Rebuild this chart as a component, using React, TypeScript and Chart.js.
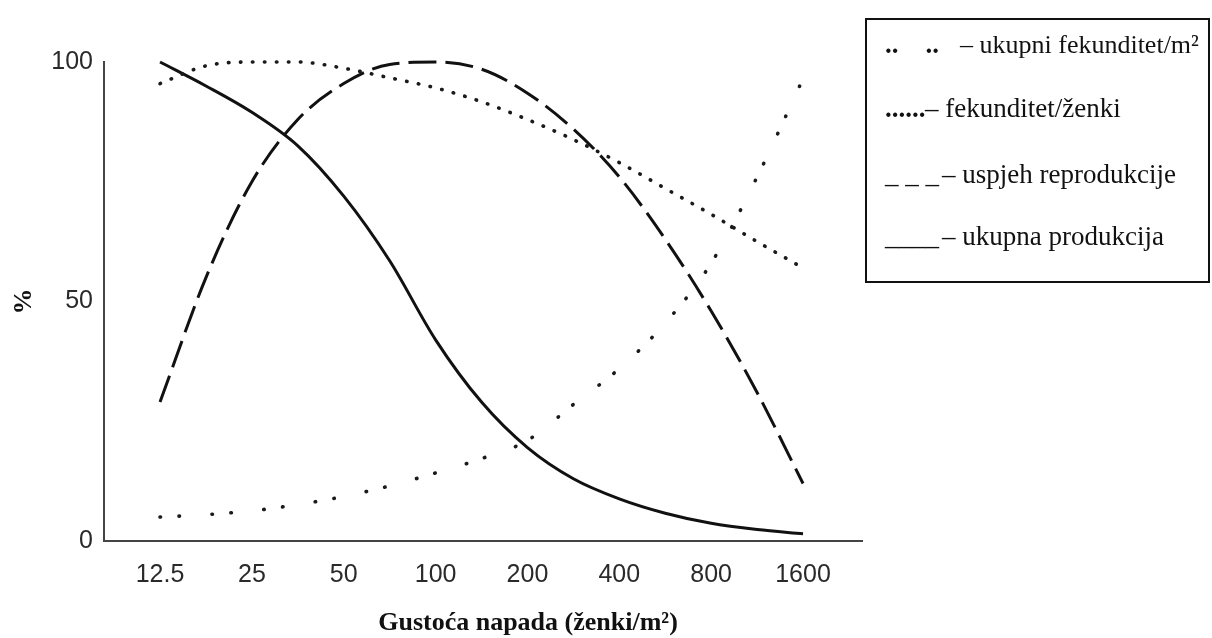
import React, { useEffect, useRef } from 'react';
import { Chart, registerables } from 'chart.js';

Chart.register(...registerables);

// Density categories (ženki/m²), evenly spaced on a log2 axis
const densities = ['12.5', '25', '50', '100', '200', '400', '800', '1600'];
// x position in doubling steps from 12.5 (log2(density / 12.5))
const xSteps = [0, 0.5, 1, 1.5, 2, 2.5, 3, 3.5, 4, 4.5, 5, 5.5, 6, 6.5, 7];

// Series values in %
const ukupniFekunditet = [5, 5.5, 6.3, 7.6, 9.3, 11.5, 14.2, 17.2, 21, 28.5, 36, 45.5, 58, 76, 96.5];
const fekunditetZenki = [95.5, 99.2, 100, 100, 98.7, 96.7, 94.6, 91.7, 88, 83.8, 79, 73.6, 68.2, 62.5, 57];
const uspjehReprodukcije = [29, 55, 75, 88, 95.5, 99.5, 100, 98.5, 93.5, 86, 76, 63, 48, 31, 12];
const ukupnaProdukcija = [100, 95, 89.5, 82.5, 72, 58.5, 42, 29, 19.5, 13, 8.8, 5.8, 3.7, 2.4, 1.5];

const yTicks = [0, 50, 100];
const yTickLabels = ['0', '50', '100'];

const xTitle = 'Gustoća napada (ženki/m²)';
const yTitle = '%';

const legendSymbols = ['..    ..', '......', '_ _ _', '____'];
const legendSymbolBold = [true, true, false, false];
const legendLabels = ['– ukupni fekunditet/m²', '– fekunditet/ženki', '– uspjeh reprodukcije', '– ukupna produkcija'];

const toPoints = (vals: number[]) => vals.map((v, i) => ({ x: xSteps[i], y: v }));

const SERIF = '"Liberation Serif", "Times New Roman", serif';
const SANS = '"Liberation Sans", Arial, sans-serif';

const overlayPlugin = {
  id: 'overlay',
  beforeDraw(chart: any) {
    const { ctx, width, height } = chart;
    ctx.save();
    ctx.fillStyle = '#ffffff';
    ctx.fillRect(0, 0, width, height);
    ctx.restore();
  },
  afterDraw(chart: any) {
    const { ctx } = chart;
    ctx.save();
    // legend box
    ctx.strokeStyle = '#111';
    ctx.lineWidth = 2;
    ctx.strokeRect(866, 19, 343, 263);
    ctx.fillStyle = '#111';
    ctx.textBaseline = 'alphabetic';
    ctx.textAlign = 'left';
    const baselines = [53, 117, 183, 245];
    const labelX = [960, 925, 942, 942];
    legendLabels.forEach((label, i) => {
      ctx.font = `${legendSymbolBold[i] ? 'bold ' : ''}27px ${SERIF}`;
      ctx.fillText(legendSymbols[i], 885, baselines[i]);
      ctx.font = `${i === 0 ? 26 : 27}px ${SERIF}`;
      ctx.fillText(label, labelX[i], baselines[i]);
    });
    // x-axis title
    ctx.font = `bold 26px ${SERIF}`;
    ctx.textAlign = 'center';
    ctx.fillText(xTitle, 528, 630);
    ctx.restore();
  },
};

export default function App() {
  const canvasRef = useRef<HTMLCanvasElement | null>(null);

  useEffect(() => {
    document.body.style.margin = '0';
    const canvas = canvasRef.current;
    if (!canvas) return;
    const lineBase = {
      pointRadius: 0,
      fill: false,
      cubicInterpolationMode: 'monotone' as const,
      clip: 12,
    };
    const chart = new Chart(canvas, {
      type: 'line',
      data: {
        datasets: [
          {
            ...lineBase,
            label: legendLabels[0],
            data: toPoints(ukupniFekunditet),
            borderColor: '#1a1a1a',
            borderWidth: 3.6,
            borderCapStyle: 'round',
            borderDash: [0.5, 18.5, 0.5, 32.5],
          },
          {
            ...lineBase,
            label: legendLabels[1],
            data: toPoints(fekunditetZenki),
            borderColor: '#1a1a1a',
            borderWidth: 3.6,
            borderCapStyle: 'round',
            borderDash: [0.5, 11.5],
          },
          {
            ...lineBase,
            label: legendLabels[2],
            data: toPoints(uspjehReprodukcije),
            borderColor: '#111',
            borderWidth: 3,
            borderCapStyle: 'butt',
            borderDash: [28, 9],
          },
          {
            ...lineBase,
            label: legendLabels[3],
            data: toPoints(ukupnaProdukcija),
            borderColor: '#111',
            borderWidth: 3,
          },
        ],
      },
      options: {
        animation: false,
        responsive: false,
        devicePixelRatio: 1,
        layout: { padding: { top: 62, right: 350, bottom: 0, left: 0 } },
        plugins: {
          legend: { display: false },
          tooltip: { enabled: false },
        },
        scales: {
          x: {
            type: 'linear',
            min: -0.61,
            max: 7.642,
            afterBuildTicks: (s: any) => {
              s.ticks = densities.map((_, i) => ({ value: i }));
            },
            afterFit: (s: any) => {
              s.height = 97;
            },
            ticks: {
              autoSkip: false,
              maxRotation: 0,
              padding: 19,
              color: '#2a2a2a',
              font: { family: SANS, size: 25 },
              callback: (_v: any, i: number) => densities[i],
            },
            grid: { display: false, drawTicks: false },
            border: { display: true, color: '#444', width: 2 },
          },
          y: {
            type: 'linear',
            min: 0,
            max: 100,
            afterBuildTicks: (s: any) => {
              s.ticks = yTicks.map((v) => ({ value: v }));
            },
            afterFit: (s: any) => {
              s.width = 104;
            },
            ticks: {
              padding: 11,
              color: '#2a2a2a',
              font: { family: SANS, size: 25 },
              callback: (v: any) => yTickLabels[yTicks.indexOf(Number(v))],
            },
            grid: { display: false, drawTicks: false },
            border: { display: true, color: '#444', width: 2 },
            title: {
              display: true,
              text: yTitle,
              color: '#111',
              font: { family: SERIF, size: 26, weight: 'bold' },
              padding: { top: 9, bottom: 0 },
            },
          },
        },
      },
      plugins: [overlayPlugin],
    });
    return () => chart.destroy();
  }, []);

  return (
    <div style={{ width: 1212, height: 638 }}>
      <canvas ref={canvasRef} width={1212} height={638} style={{ display: 'block', width: 1212, height: 638 }} />
    </div>
  );
}
